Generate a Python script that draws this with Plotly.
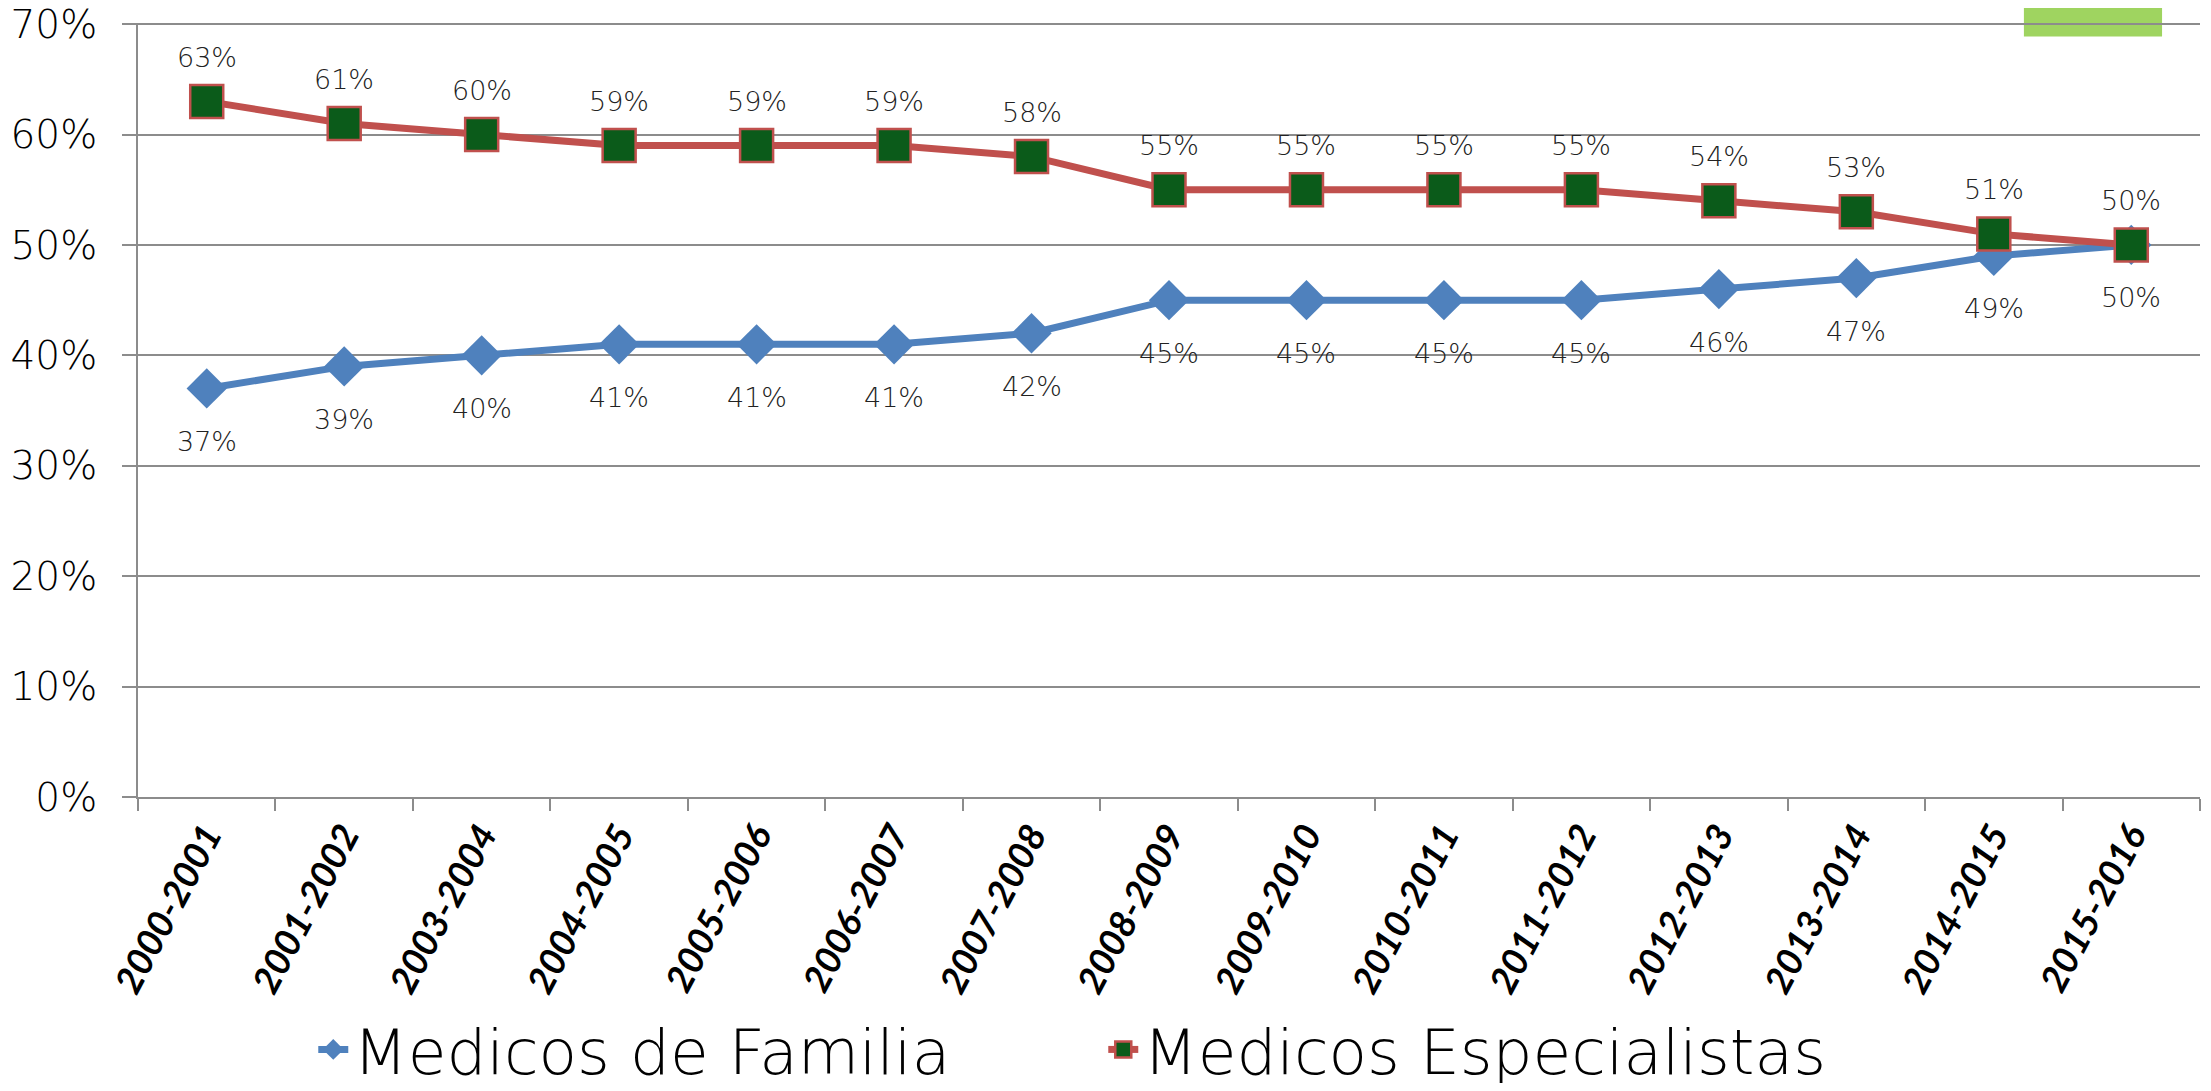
import plotly.graph_objects as go

categories = ["2000-2001", "2001-2002", "2003-2004", "2004-2005", "2005-2006",
              "2006-2007", "2007-2008", "2008-2009", "2009-2010", "2010-2011",
              "2011-2012", "2012-2013", "2013-2014", "2014-2015", "2015-2016"]
familia = [0.37, 0.39, 0.40, 0.41, 0.41, 0.41, 0.42, 0.45, 0.45, 0.45, 0.45, 0.46, 0.47, 0.49, 0.50]
especialistas = [0.63, 0.61, 0.60, 0.59, 0.59, 0.59, 0.58, 0.55, 0.55, 0.55, 0.55, 0.54, 0.53, 0.51, 0.50]
y_ticks = [0, 0.1, 0.2, 0.3, 0.4, 0.5, 0.6, 0.7]

BLUE = "#4F81BD"
RED = "#C0504D"
GREEN = "#0B5B1A"
FONT = "Lato"
THIN = "DejaVu Sans"

fig = go.Figure()
fig.add_trace(go.Scatter(
    x=categories, y=familia, name="Medicos de Familia", mode="lines+markers",
    line=dict(color=BLUE, width=7),
    marker=dict(symbol="diamond", size=31, color=BLUE, line=dict(width=0)),
))
fig.add_trace(go.Scatter(
    x=categories, y=especialistas, name="Medicos Especialistas", mode="lines+markers",
    line=dict(color=RED, width=7),
    marker=dict(symbol="square", size=33, color=GREEN, line=dict(width=2.5, color=RED)),
))

label_font = dict(family=THIN, size=27, color="#222222", weight=200)
annotations = []
for c, v in zip(categories, familia):
    annotations.append(dict(x=c, y=v, text=f"{round(v*100)}%", showarrow=False,
                            yshift=-53, font=label_font))
for c, v in zip(categories, especialistas):
    annotations.append(dict(x=c, y=v, text=f"{round(v*100)}%", showarrow=False,
                            yshift=44, font=label_font))

fig.update_layout(
    template="none",
    width=2195, height=1075,
    margin=dict(l=130, r=3, t=15, b=286, autoexpand=False),
    paper_bgcolor="white", plot_bgcolor="rgba(0,0,0,0)",
    font=dict(family=FONT, color="#000000"),
    showlegend=True,
    legend=dict(orientation="h", x=0.085, xanchor="left", y=-0.3262, yanchor="middle",
                font=dict(family=THIN, size=63, color="#000000", weight=200),
                entrywidth=745, entrywidthmode="pixels", bgcolor="rgba(0,0,0,0)",
                borderwidth=0),
    annotations=annotations,
    shapes=[dict(type="rect", xref="paper", yref="paper", x0=0.9146, x1=0.9816,
                 y0=0.9825, y1=1.03, fillcolor="#9FD460", line=dict(width=0), layer="below")],
)

fig.update_xaxes(
    type="category", range=[-0.5, len(categories) - 0.5], automargin=False,
    showgrid=False, showline=True, linecolor="#8C8C8C", linewidth=2, zeroline=False,
    ticks="outside", ticklen=12, tickwidth=2, tickcolor="#8C8C8C", tickson="boundaries",
    tickangle=-62, ticklabelstandoff=0,
    tickfont=dict(family=FONT, size=37, color="#000000", weight="bold", style="italic"),
)
fig.update_yaxes(
    range=[0, 0.701], tickvals=y_ticks, tickformat=".0%", automargin=False,
    showgrid=True, gridcolor="#8C8C8C", gridwidth=2,
    showline=True, linecolor="#8C8C8C", linewidth=2,
    ticks="outside", ticklen=14, tickwidth=2, tickcolor="#8C8C8C",
    ticklabelstandoff=17, zeroline=False, ticklabeloverflow="allow",
    tickfont=dict(family=THIN, size=39, color="#000000", weight=200),
)

fig.write_html("out.html")
